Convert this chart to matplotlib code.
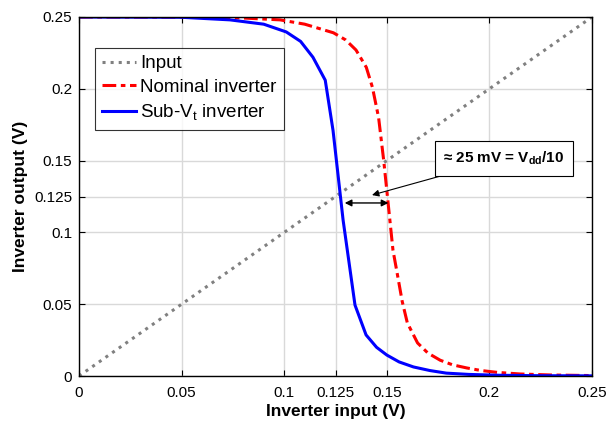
import numpy as np
from matplotlib import pyplot as plt

plt.rcParams['font.family'] = ['Liberation Sans', 'DejaVu Sans']

# input diagonal
vin = [0.0, 0.25]

# nominal inverter
nom_x = [0.0, 0.05, 0.08, 0.098, 0.11, 0.124, 0.13, 0.135, 0.14, 0.143, 0.146,
         0.1485, 0.1506, 0.153, 0.155, 0.1575, 0.160, 0.165, 0.170, 0.176,
         0.182, 0.189, 0.196, 0.204, 0.215, 0.23, 0.25]
nom_y = [0.25, 0.2499, 0.2493, 0.248, 0.245, 0.239, 0.234, 0.227, 0.215, 0.201,
         0.180, 0.150, 0.121, 0.0877, 0.072, 0.052, 0.037, 0.023, 0.016, 0.011,
         0.0078, 0.0056, 0.0038, 0.0025, 0.0014, 0.0007, 0.0003]

# sub-Vt inverter
sub_x = [0.0, 0.05, 0.0736, 0.09, 0.101, 0.108, 0.114, 0.12, 0.1238, 0.1287,
         0.1345, 0.1399, 0.145, 0.150, 0.156, 0.163, 0.171, 0.179, 0.19,
         0.205, 0.225, 0.25]
sub_y = [0.25, 0.2498, 0.248, 0.245, 0.2396, 0.233, 0.222, 0.206, 0.171, 0.1086,
         0.0494, 0.0286, 0.020, 0.0146, 0.0098, 0.0063, 0.0038, 0.002, 0.0011,
         0.0005, 0.0002, 0.0001]

ticks = [0, 0.05, 0.1, 0.125, 0.15, 0.2, 0.25]
tick_labels = ['0', '0.05', '0.1', '0.125', '0.15', '0.2', '0.25']

fig = plt.figure(figsize=(6.13, 4.24), dpi=100)
ax = fig.add_axes([79 / 613, 1 - 376 / 424, 513 / 613, 359 / 424])

ax.plot(vin, vin, linestyle=':', color=(0.5, 0.5, 0.5), lw=2.2, label='Input')
ax.plot(nom_x, nom_y, linestyle=(0, (4.5, 1.5, 1.5, 1.5)), color='r', lw=2.2,
        label='Nominal inverter')
ax.plot(sub_x, sub_y, '-', color='b', lw=2.2, label='Sub-V$_\\mathregular{t}$ inverter')

ax.set_xlim(0, 0.25)
ax.set_ylim(0, 0.25)
ax.set_xticks(ticks)
ax.set_xticklabels(tick_labels)
ax.set_yticks(ticks)
ax.set_yticklabels(tick_labels)
ax.tick_params(labelsize=11, direction='in', length=4, top=True, right=True)
ax.tick_params(axis='x', pad=7)
ax.tick_params(axis='y', pad=5)
ax.grid(True, color=(0.85, 0.85, 0.85), lw=1)
ax.set_axisbelow(True)
for s in ax.spines.values():
    s.set_linewidth(1)

ax.set_xlabel('Inverter input (V)', fontsize=12.5, fontweight='bold', labelpad=3)
ax.set_ylabel('Inverter output (V)', fontsize=12.5, fontweight='bold', labelpad=4)

leg = ax.legend(loc='upper left', bbox_to_anchor=(0.031, 0.914), fontsize=13.5,
                frameon=True, fancybox=False, edgecolor='k', handlelength=1.8,
                borderpad=0.38, labelspacing=0.36, handletextpad=0.25,
                borderaxespad=0)
leg.get_frame().set_linewidth(0.8)

# double arrow between curves
ax.annotate('', xy=(0.1295, 0.1205), xytext=(0.1508, 0.1205),
            arrowprops=dict(arrowstyle='<|-|>', color='k', lw=1,
                            mutation_scale=10, shrinkA=0, shrinkB=0))
ax.annotate('\u2248 25 mV = V$_\\mathregular{dd}$/10', xy=(0.1428, 0.126),
            xytext=(0.1775, 0.1515), fontsize=11, fontweight='bold',
            va='center', ha='left',
            bbox=dict(boxstyle='square,pad=0.55', fc='w', ec='k', lw=0.8),
            arrowprops=dict(arrowstyle='-|>', color='k', lw=0.8,
                            mutation_scale=10, shrinkA=0, shrinkB=0))

plt.savefig('out.png', dpi=100)
plt.close()
